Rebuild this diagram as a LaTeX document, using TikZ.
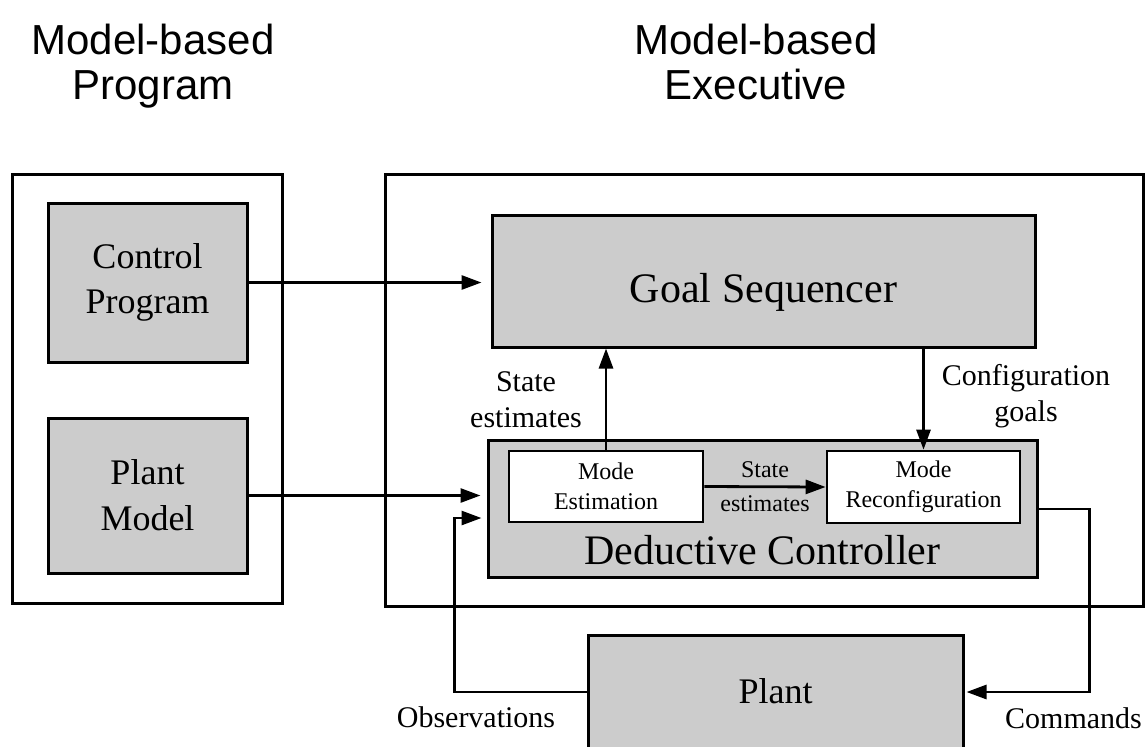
\documentclass[tikz,border=0pt]{standalone}
\usepackage{fontspec}
\setmainfont{Liberation Serif}
\newfontfamily\titlesans{Liberation Sans}
\usetikzlibrary{arrows.meta,calc}
\definecolor{boxgray}{HTML}{CCCCCC}
\begin{document}
\begin{tikzpicture}[x=1pt,y=-1pt,
  outerbox/.style={draw, line width=3pt, fill=white, inner sep=0pt},
  graybox/.style={draw, line width=3pt, fill=boxgray, inner sep=0pt, align=center},
  whitebox/.style={draw, line width=2.7pt, fill=white, inner sep=0pt, align=center,
     font=\fontsize{24}{30}\selectfont},
  conn/.style={line width=2.8pt, -{Triangle[length=20pt,width=14pt]}},
  title/.style={font=\titlesans\fontsize{42}{45}\selectfont, align=center, inner sep=0pt},
  lbl/.style={font=\fontsize{30}{36}\selectfont, align=center, inner sep=0pt}
]
\useasboundingbox (0,0) rectangle (1146,747);
\clip (0,0) rectangle (1146,747);

% titles
\node[title] (t1) at (153,66.5) {Model-based\\Program};
\node[title] (t2) at (756,62.2) {Model-based\\Executive};

% outer boxes
\node[outerbox, minimum width=270pt, minimum height=429pt] (left) at (147,388.5) {};
\node[outerbox, minimum width=758pt, minimum height=432pt] (right) at (764,390) {};

% left boxes
\node[graybox, minimum width=199pt, minimum height=159pt,
      font=\fontsize{36}{45}\selectfont] (cp) at (147.5,282.5) {Control\\Program};
\node[graybox, minimum width=199pt, minimum height=155pt,
      font=\fontsize{36}{46}\selectfont] (pm) at (147.5,495.5) {Plant\\Model};

% executive
\node[graybox, minimum width=543pt, minimum height=132pt,
      font=\fontsize{42}{48}\selectfont, text height=42pt, text depth=0pt] (gs) at (763.5,281) {Goal Sequencer};
\node[graybox, minimum width=549pt, minimum height=137pt,
      font=\fontsize{42}{48}\selectfont, text height=111pt, text depth=0pt] (dc) at (762.5,508.5) {Deductive Controller};
\node[whitebox, minimum width=194pt, minimum height=71pt] (me) at (606,486.5) {Mode\\Estimation};
\node[whitebox, minimum width=193pt, minimum height=72pt] (mr) at (923.5,487) {Mode\\Reconfiguration};

% plant
\node[graybox, minimum width=375pt, minimum height=125pt,
      font=\fontsize{36}{44}\selectfont, text height=24pt, text depth=13pt] (plant) at (775.5,697.5) {Plant};

% connectors
\draw[conn, shorten >=9pt] (cp.east) -- (cp.east -| gs.west);
\draw[conn, shorten >=6pt] (pm.east) -- (pm.east -| dc.west);
\coordinate (obsin) at ([yshift=-9.5pt]dc.west);
\draw[conn, shorten >=5pt] ([yshift=5.5pt]plant.west) -- ++(-132,0) |- (obsin);
\draw[conn] (me.north) -- (me.north |- gs.south);
\draw[conn] (mr.north |- gs.south) -- (mr.north);
\draw[conn] (me.east) -- node[font=\fontsize{24}{34}\selectfont, align=center, inner sep=0pt]
   {State\\estimates} (mr.west);
\draw[conn, shorten >=2pt] ([yshift=-0.5pt]dc.east) -- ++(51,0) |- ([yshift=5.5pt]plant.east);

% labels
\node[lbl] (lse) at (526,400) {State\\estimates};
\node[lbl] (lcg) at (1026,396.3) {Configuration\\goals};
\node[lbl, anchor=base] (lobs) at (476,727) {Observations};
\node[lbl, anchor=base] (lcmd) at (1073.5,728) {Commands};
\end{tikzpicture}
\end{document}
